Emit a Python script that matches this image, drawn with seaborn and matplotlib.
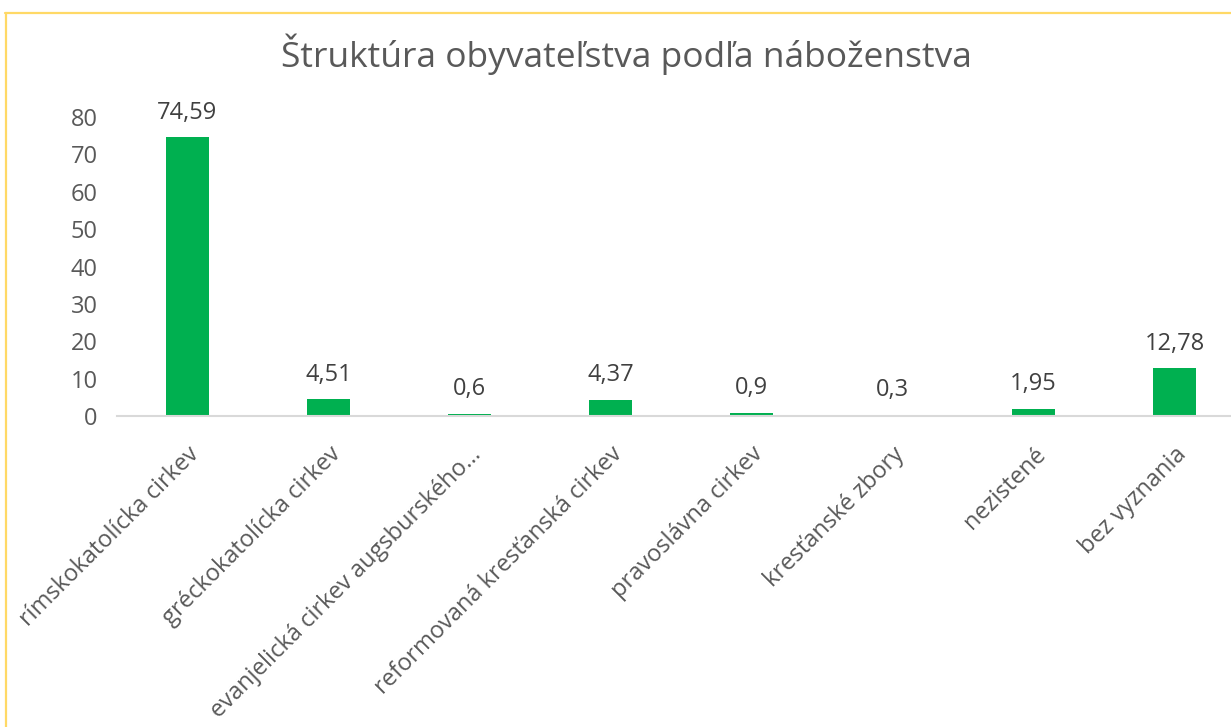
import matplotlib
matplotlib.use("Agg")
import matplotlib.pyplot as plt
import seaborn as sns
import pandas as pd
from matplotlib.lines import Line2D

categories = [
    "rímskokatolícka cirkev",
    "gréckokatolícka cirkev",
    "evanjelická cirkev augsburského…",
    "reformovaná kresťanská cirkev",
    "pravoslávna cirkev",
    "kresťanské zbory",
    "nezistené",
    "bez vyznania",
]
values = [74.59, 4.51, 0.6, 4.37, 0.9, 0.3, 1.95, 12.78]
y_ticks = [0, 10, 20, 30, 40, 50, 60, 70, 80]
title = "Štruktúra obyvateľstva podľa náboženstva"

sns.set_theme(style="white")
plt.rcParams["font.family"] = ["Open Sans", "DejaVu Sans"]

W, H = 1231, 727
fig = plt.figure(figsize=(W / 100, H / 100), dpi=100)
fig.patch.set_facecolor("white")

ax = fig.add_axes([117 / W, (H - 416) / H, 1128 / W, 299 / H])
df = pd.DataFrame({"cat": categories, "val": values})
sns.barplot(data=df, x="cat", y="val", color="#00B050", saturation=1,
            width=0.305, ax=ax, edgecolor="none")

ax.set_xlim(-0.5, len(categories) - 0.5)
ax.set_ylim(0, 80)
ax.set_yticks(y_ticks)
ax.set_xlabel("")
ax.set_ylabel("")
for s in ["top", "right", "left"]:
    ax.spines[s].set_visible(False)
ax.spines["bottom"].set_color("#D9D9D9")
ax.spines["bottom"].set_linewidth(1.5)
ax.tick_params(axis="both", length=0, colors="#595959", labelsize=17)
ax.tick_params(axis="y", pad=14)
ax.tick_params(axis="x", pad=19)
for lab in ax.get_xticklabels():
    lab.set_rotation(45)
    lab.set_ha("right")
    lab.set_va("top")
    lab.set_rotation_mode("anchor")

for i, v in enumerate(values):
    ax.annotate(str(v).replace(".", ","), (i, v), xytext=(0, 9),
                textcoords="offset points", ha="center", va="bottom",
                fontsize=17, color="#404040")

fig.text(626 / W, 1 - 67 / H, title, ha="center", va="baseline",
         fontsize=25.5, color="#595959")

# chart border
fig.add_artist(Line2D([5 / W, 1.0], [1 - 12.5 / H, 1 - 12.5 / H],
                      transform=fig.transFigure, color="#FFD966", lw=1.6))
fig.add_artist(Line2D([5.5 / W, 5.5 / W], [0, 1 - 12.5 / H],
                      transform=fig.transFigure, color="#FFD966", lw=1.6))

fig.savefig("out.png", dpi=100)
